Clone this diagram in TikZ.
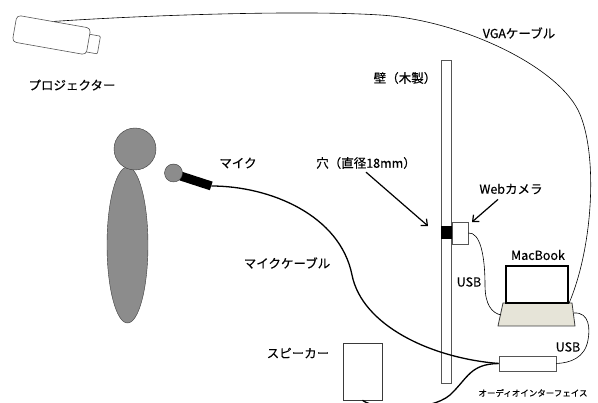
\documentclass[tikz,border=0pt]{standalone}
\usepackage{fontspec}
\setmainfont{Noto Sans CJK JP}[FakeBold=0.3]
\usetikzlibrary{arrows.meta,shapes.geometric}
\definecolor{figgray}{HTML}{8C8C8C}
\definecolor{figedge}{HTML}{3A3A3A}
\definecolor{lineedge}{HTML}{555555}
\definecolor{basefill}{HTML}{E6E4D8}
\begin{document}
\begin{tikzpicture}[x=1pt,y=-1pt,
  lbl/.style={font=\fontsize{12.5}{14}\selectfont, inner sep=0pt},
  smalllbl/.style={font=\fontsize{8.5}{10}\selectfont, inner sep=0pt},
  box/.style={draw=lineedge, fill=white, inner sep=0pt, line width=0.6pt},
  cable/.style={line width=0.6pt},
  thickcable/.style={line width=1.3pt},
  pointer/.style={line width=1.2pt, -{Straight Barb[length=5pt,width=9pt]}},
]
\useasboundingbox (0,0) rectangle (598,403);

% projector
\node[box, rounded corners=1pt, minimum width=12pt, minimum height=18pt, rotate=-10] (lens) at (93,44) {};
\node[box, rounded corners=4pt, minimum width=75pt, minimum height=27pt, rotate=-10] (proj) at (51.5,35) {};
\node[lbl] (projlbl) at (72,85) {プロジェクター};

% wall with hole and web camera
\node[box, minimum width=10pt, minimum height=323pt] (wall) at (446,221.5) {};
\node[lbl] (walllbl) at (405,78) {壁（木製）};
\node[draw=black, fill=black, inner sep=0pt, minimum width=11pt, minimum height=12pt] (hole) at (446.5,232) {};
\node[box, minimum width=16pt, minimum height=22pt] (cam) at (460,233) {};
\node[lbl] (holelbl) at (366,163) {穴（直径18mm）};
\node[lbl] (camlbl) at (511,189) {Webカメラ};
\coordinate (holetip) at (428,226);
\coordinate (camtip) at (472,222);
\draw[pointer] ([yshift=-3pt]holelbl.south) -- (holetip);
\draw[pointer] ([xshift=-13pt,yshift=-5pt]camlbl.south) -- (camtip);

% MacBook
\draw[draw=figedge, fill=basefill, line width=0.8pt] (503,303) -- (572,303) -- (575,326) -- (498,326) -- cycle;
\node[draw=black, fill=white, line width=1.6pt, inner sep=0pt, minimum width=62pt, minimum height=37pt] (screen) at (537,284.5) {};
\coordinate (baseL) at (501,315);
\coordinate (baseR) at (574,313);
\node[lbl] (maclbl) at (538,255) {MacBook};

% audio interface and speaker
\node[box, minimum width=57pt, minimum height=15pt] (iface) at (527.5,363.5) {};
\node[smalllbl] (ifacelbl) at (533,393) {オーディオインターフェイス};
\node[box, draw=figedge, minimum width=39pt, minimum height=57pt] (spk) at (362.5,371.5) {};
\node[lbl] (spklbl) at (298,353) {スピーカー};

% person and microphone
\node[ellipse, draw=figedge, fill=figgray, inner sep=0pt, minimum width=41pt, minimum height=156pt] (torso) at (127.5,245) {};
\node[circle, draw=figedge, fill=figgray, inner sep=0pt, minimum size=42pt] (head) at (135,149) {};
\node[fill=black, inner sep=0pt, minimum width=32pt, minimum height=9pt, rotate=-18] (micbody) at (196,181) {};
\node[circle, draw=figedge, fill=figgray, inner sep=0pt, minimum size=18pt] (mic) at (173.5,173) {};
\node[lbl] (miclbl) at (238,163) {マイク};
\node[lbl] (cablelbl) at (287,263) {マイクケーブル};

% cables
\draw[cable] (proj.north) .. controls (150,15) and (300,10) .. (380,15)
  .. controls (460,20) and (555,65) .. (578,110)
  .. controls (598,150) and (594,245) .. (screen.south east);
\node[lbl] (vgalbl) at (519,33) {VGAケーブル};
\draw[cable] (cam.east) .. controls (480,232) and (485,255) .. (485,285)
  .. controls (485,305) and (492,313) .. (baseL);
\node[lbl] (usb1) at (469,282) {USB};
\draw[cable] (baseR) .. controls (590,312) and (590,330) .. (588,340)
  .. controls (585,358) and (570,363) .. (iface.east);
\node[lbl] (usb2) at (568,347) {USB};
\draw[thickcable] (micbody.east) .. controls (270,186) and (340,215) .. (352,275)
  .. controls (362,325) and (430,358) .. (iface.west);
\draw[thickcable] (spk.south) .. controls (375,410) and (430,412) .. (450,395)
  .. controls (468,378) and (470,364) .. (iface.west);
\end{tikzpicture}
\end{document}
